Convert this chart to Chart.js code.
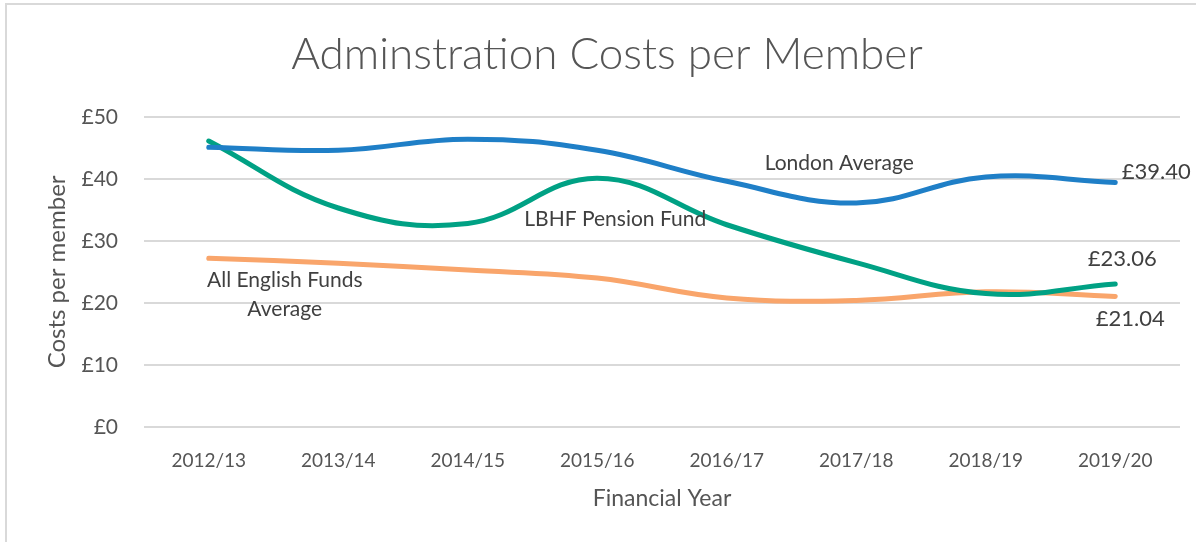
<!DOCTYPE html>
<html>
<head>
<meta charset="utf-8">
<script src="https://cdn.jsdelivr.net/npm/chart.js@4/dist/chart.umd.min.js"></script>
<style>
  html, body { margin: 0; padding: 0; background: #fff; }
  #wrap { position: relative; width: 1196px; height: 542px; }
  #wrap:before { content: ""; position: absolute; left: 5px; top: 3px; right: 0; bottom: 0;
    border-left: 2px solid #d9d9d9; border-top: 2px solid #d9d9d9; }
</style>
</head>
<body>
<div id="wrap"><canvas id="myChart" width="1196" height="542"></canvas></div>
<script>
// Data
var years = ['2012/13', '2013/14', '2014/15', '2015/16', '2016/17', '2017/18', '2018/19', '2019/20'];
var londonAvg = [45.1, 44.6, 46.4, 44.6, 39.6, 36.1, 40.3, 39.40];
var lbhfFund = [46.1, 35.3, 32.8, 40.1, 32.6, 26.5, 21.5, 23.06];
var englishAvg = [27.2, 26.4, 25.3, 24.0, 20.8, 20.4, 21.8, 21.04];
var yTicks = [0, 10, 20, 30, 40, 50];

var textGrey = '#555555';
var fontName = 'Lato';

// labels drawn next to data points (Excel style data labels)
var pointLabels = {
    id: 'pointLabels',
    afterDatasetsDraw: function (chart, args, opts) {
        var ctx = chart.ctx;
        var xs = chart.scales.x, ys = chart.scales.y;
        ctx.save();
        ctx.fillStyle = '#404040';
        ctx.textAlign = 'center';
        ctx.textBaseline = 'middle';
        opts.items.forEach(function (it) {
            var val = chart.data.datasets[it.ds].data[it.i];
            var px = xs.getPixelForValue(it.i) + it.dx;
            var py = ys.getPixelForValue(val) + it.dy;
            ctx.font = it.size + 'px ' + fontName;
            var lines = it.text ? it.text : ['£' + val.toFixed(2)];
            lines.forEach(function (t, k) {
                ctx.fillText(t, px, py + k * it.size * 1.4);
            });
        });
        ctx.restore();
    }
};

new Chart("myChart", {
    type: "line",
    data: {
        labels: years,
        datasets: [{
            label: 'London Average',
            data: londonAvg,
            borderColor: '#1f7fc7',
        }, {
            label: 'LBHF Pension Fund',
            data: lbhfFund,
            borderColor: '#00a184',
        }, {
            label: 'All English Funds Average',
            data: englishAvg,
            borderColor: '#f9a56b',
        }]
    },
    options: {
        responsive: false,
        animation: false,
        layout: { padding: { left: 18, right: 0, top: 0, bottom: 30 } },
        elements: {
            line: { borderWidth: 5, tension: 0.4, borderCapStyle: 'round', fill: false },
            point: { radius: 0 }
        },
        plugins: {
            legend: { display: false },
            tooltip: { enabled: false },
            title: {
                display: true,
                text: 'Adminstration Costs per Member',
                color: textGrey,
                font: { family: fontName, size: 44, weight: '300' },
                padding: { top: 28, bottom: 36 }
            },
            pointLabels: {
                items: [
                    { ds: 0, i: 5, dx: -17, dy: -40, size: 21, text: ['London Average'] },
                    { ds: 1, i: 3, dx: 18, dy: 41, size: 21, text: ['LBHF Pension Fund'] },
                    { ds: 2, i: 0, dx: 76, dy: 22, size: 21, text: ['All English Funds', 'Average'] },
                    { ds: 0, i: 7, dx: 41, dy: -11, size: 22 },
                    { ds: 1, i: 7, dx: 7, dy: -25, size: 22 },
                    { ds: 2, i: 7, dx: 15, dy: 22, size: 22 }
                ]
            }
        },
        scales: {
            x: {
                offset: true,
                afterFit: function (axis) { axis.height = 85; },
                grid: { display: false, drawTicks: false },
                border: { display: false },
                ticks: { color: textGrey, font: { family: fontName, size: 19 }, padding: 22 },
                title: {
                    display: true,
                    text: 'Financial Year',
                    color: textGrey,
                    font: { family: fontName, size: 23 },
                    padding: { top: 12, bottom: 0 }
                }
            },
            y: {
                min: 0,
                max: 50,
                afterBuildTicks: function (axis) {
                    axis.ticks = yTicks.map(function (v) { return { value: v }; });
                },
                afterFit: function (axis) { axis.width = 126; },
                grid: { color: '#d9d9d9', lineWidth: 2, drawTicks: false },
                border: { display: false },
                ticks: {
                    color: textGrey,
                    font: { family: fontName, size: 21 },
                    padding: 26,
                    callback: function (v) { return '£' + v; }
                },
                title: {
                    display: true,
                    text: 'Costs per member',
                    color: textGrey,
                    font: { family: fontName, size: 24 },
                    padding: { top: 25, bottom: 10 }
                }
            },
            // empty axis that only keeps a right margin
            yRight: {
                position: 'right',
                min: 0,
                max: 50,
                afterFit: function (axis) { axis.width = 16; },
                grid: { display: false },
                border: { display: false },
                ticks: { display: false }
            }
        }
    },
    plugins: [pointLabels]
});
</script>
</body>
</html>
